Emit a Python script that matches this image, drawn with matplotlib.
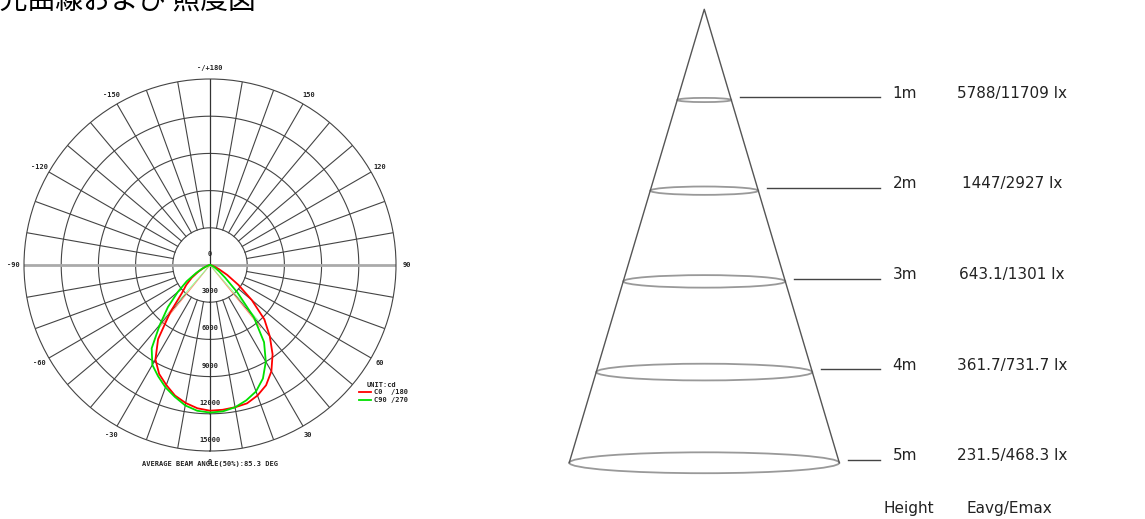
import numpy as np
import matplotlib
matplotlib.use('Agg')
import matplotlib.pyplot as plt
from matplotlib.patches import Ellipse

# Data
gamma = [-90, -85, -80, -75, -70, -65, -60, -55, -50, -45, -40, -35, -30, -25, -20,
         -15, -10, -5, 0, 5, 10, 15, 20, 25, 30, 35, 40, 45, 50, 55, 60, 65, 70,
         75, 80, 85, 90]
c0_180 = [0, 20, 60, 150, 300, 600, 1100, 1800, 2500, 3200, 5000, 7300, 8800, 9700,
          10300, 10900, 11300, 11600, 11750, 11720, 11650, 11550, 11200, 10700, 9900,
          8800, 7500, 6200, 4400, 2800, 1600, 800, 400, 200, 100, 40, 0]
c90_270 = [0, 20, 60, 150, 300, 700, 1300, 2300, 3400, 4800, 6300, 8200, 9300, 9900,
           10500, 11000, 11500, 11800, 11900, 11850, 11650, 11300, 10850, 10100, 9000,
           7600, 5500, 3100, 1600, 900, 500, 300, 150, 80, 40, 20, 0]
# thin helper lines from the centre
faint_red_angle = [-39, 39]
faint_red_r = 6500
faint_green_angle = [-41, 41]
faint_green_r = 6000

ring_values = [3000, 6000, 9000, 12000, 15000]
ring_labels = ['0', '3000', '6000', '9000', '12000', '15000']
angle_ticks = [0, 30, 60, 90, 120, 150, 180, 210, 240, 270, 300, 330]
angle_labels = ['0', '30', '60', '90', '120', '150', '-/+180',
                '-150', '-120', '-90', '-60', '-30']
beam_angle = 85.3

heights = [1, 2, 3, 4, 5]
eavg = ['5788', '1447', '643.1', '361.7', '231.5']
emax = ['11709', '2927', '1301', '731.7', '468.3']

W, H = 1145, 519
fig = plt.figure(figsize=(W / 100, H / 100), dpi=100)

fig.text(-28 / W, 1 - 10 / H, '配光曲線および 照度図', fontsize=20,
         family=['Noto Sans CJK JP', 'DejaVu Sans'], va='baseline', ha='left')

# ---- polar light distribution ----
cx, cy, R = 210, 265, 186
ax = fig.add_axes([(cx - R) / W, (H - cy - R) / H, 2 * R / W, 2 * R / H],
                  projection='polar')
ax.set_theta_zero_location('S')
ax.set_theta_direction(1)
ax.set_rlim(0, 15000)
ax.grid(False)
ax.set_xticks([])
ax.set_yticks([])
ax.spines['polar'].set_color('#444444')
ax.spines['polar'].set_linewidth(0.8)

mono = dict(family='DejaVu Sans Mono', weight='bold', fontsize=5, color='#222222')
full = np.linspace(0, 2 * np.pi, 361)
for r in ring_values[:-1]:
    ax.plot(full, np.full_like(full, r), color='#444444', lw=0.8)
for a in range(0, 360, 10):
    if a % 90 == 0:
        continue
    t = np.deg2rad(a)
    ax.plot([t, t], [3000, 15000], color='#444444', lw=0.8)
for a in [0, 180]:
    t = np.deg2rad(a)
    ax.plot([t, t], [0, 15000], color='#333333', lw=0.9)
for a in [90, 270]:
    t = np.deg2rad(a)
    ax.plot([t, t], [0, 15000], color='#aaaaaa', lw=2)

for a, lab in zip(angle_ticks, angle_labels):
    ax.text(np.deg2rad(a), 15850, lab, ha='center', va='center', **mono)
for v, lab in zip([0] + ring_values, ring_labels):
    ax.annotate(lab, xy=(0, v), xytext=(0, 11), textcoords='offset pixels',
                ha='center', va='center', **mono)

for a in faint_red_angle:
    ax.plot(np.deg2rad([a, a]), [0, faint_red_r], color='#ff9070', lw=0.7)
for a in faint_green_angle:
    ax.plot(np.deg2rad([a, a]), [0, faint_green_r], color='#90ff90', lw=0.7)

th = np.deg2rad(gamma)
l1, = ax.plot(th, c0_180, color='#ff0000', lw=1.3)
l2, = ax.plot(th, c90_270, color='#00e000', lw=1.3)

fig.text(367 / W, 1 - 385 / H, 'UNIT:cd', ha='left', va='center', **mono)
leg = fig.legend([l1, l2], ['C0  /180', 'C90 /270'], loc='upper left',
                 bbox_to_anchor=(359 / W, 1 - 389 / H), frameon=False,
                 borderpad=0, borderaxespad=0, handlelength=1.7,
                 handletextpad=0.4, labelspacing=0.35,
                 prop=dict(family='DejaVu Sans Mono', weight='bold', size=5))
for t in leg.get_texts():
    t.set_color('#222222')

fig.text(cx / W, 1 - 464 / H, 'AVERAGE BEAM ANGLE(50%%):%.1f DEG' % beam_angle,
         ha='center', va='center', **mono)

# ---- illuminance cone ----
ax2 = fig.add_axes([560 / W, 0, 585 / W, 1])
ax2.set_xlim(-4.92, 15.03)
ax2.set_ylim(5.62, -0.1025)
ax2.axis('off')

half = np.tan(np.deg2rad(beam_angle / 2))
rmax = heights[-1] * half
ax2.plot([-rmax, 0, rmax], [heights[-1], 0, heights[-1]], color='#555555', lw=1)

txt = dict(family='DejaVu Sans', fontsize=11, color='#222222')
for h, ea, em in zip(heights, eavg, emax):
    r = h * half
    ax2.add_patch(Ellipse((0, h), 2 * r, 0.05 * r, fill=False,
                          edgecolor='#999999', lw=1.3))
    ax2.plot([r + 0.3, 6.0], [h - 0.03, h - 0.03], color='#444444', lw=1)
    ax2.text(6.42, h - 0.075, '%dm' % h, ha='left', va='center', **txt)
    ax2.text(10.5, h - 0.075, '%s/%s lx' % (ea, em), ha='center', va='center', **txt)

ax2.text(6.98, 5.50, 'Height', ha='center', va='center', **txt)
ax2.text(10.42, 5.50, 'Eavg/Emax', ha='center', va='center', **txt)

fig.savefig('out.png', dpi=100)
